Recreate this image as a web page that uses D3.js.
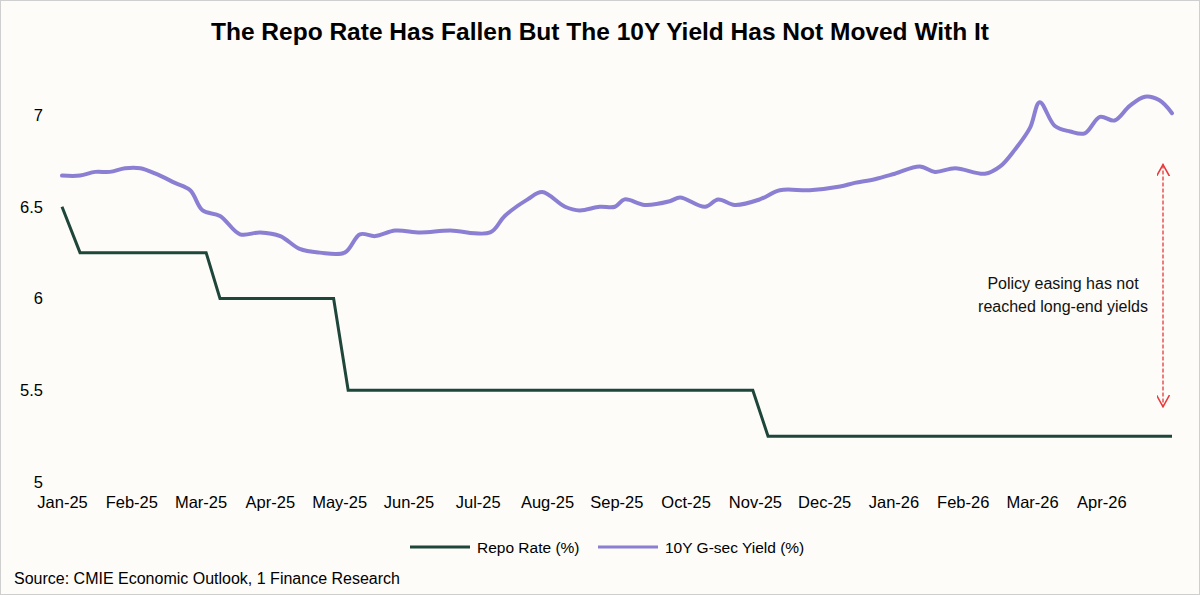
<!DOCTYPE html>
<html><head><meta charset="utf-8">
<script src="https://cdn.jsdelivr.net/npm/d3@7"></script>
<style>body{margin:0;background:#fff}svg{display:block;font-family:"Liberation Sans",Arial,sans-serif}</style>
</head><body><svg id="chart"></svg>
<script>
// months since Jan-25 (fractional)
var monthLabels = ['Jan-25','Feb-25','Mar-25','Apr-25','May-25','Jun-25','Jul-25','Aug-25','Sep-25','Oct-25','Nov-25','Dec-25','Jan-26','Feb-26','Mar-26','Apr-26'];
var repoMonths = [0, 0.26, 2.08, 2.28, 3.92, 4.13, 9.97, 10.19, 16.02];
var repoRate = [6.5, 6.25, 6.25, 6.0, 6.0, 5.5, 5.5, 5.25, 5.25];
var yieldMonths = [0,.26,.48,.69,.91,1.13,1.35,1.63,1.85,2.03,2.28,2.57,2.86,3.15,3.43,3.72,4.08,4.30,4.52,4.81,5.17,5.60,6.18,6.39,6.72,6.93,7.26,7.47,7.76,7.98,8.12,8.41,8.77,8.92,9.28,9.47,9.71,10.07,10.36,10.79,11.23,11.44,11.73,12.02,12.38,12.60,12.89,13.32,13.54,13.75,13.97,14.11,14.33,14.55,14.76,14.98,15.19,15.41,15.63,15.84,16.02];
var yield10 = [6.67,6.67,6.69,6.69,6.71,6.71,6.68,6.63,6.59,6.48,6.45,6.35,6.36,6.34,6.27,6.25,6.25,6.35,6.34,6.37,6.36,6.37,6.36,6.45,6.54,6.58,6.50,6.48,6.50,6.50,6.54,6.51,6.53,6.55,6.50,6.54,6.51,6.54,6.59,6.59,6.61,6.63,6.65,6.68,6.72,6.69,6.71,6.68,6.72,6.81,6.93,7.07,6.94,6.91,6.90,6.99,6.97,7.05,7.10,7.08,7.01];
var yTicks = [5, 5.5, 6, 6.5, 7];

var W = 1200, H = 595;
var svg = d3.select('#chart').attr('width', W).attr('height', H);
svg.append('rect').attr('x', 0.5).attr('y', 0.5).attr('width', W - 1).attr('height', H - 1)
  .attr('fill', '#fdfcf8').attr('stroke', '#cfcfcf');

var x = d3.scaleLinear().domain([0, 16.02]).range([62, 1172]);
var y = d3.scaleLinear().domain([5, 7]).range([482, 115]);

svg.append('text').attr('x', 600).attr('y', 40).attr('text-anchor', 'middle')
  .attr('font-size', 24.5).attr('font-weight', 'bold').text('The Repo Rate Has Fallen But The 10Y Yield Has Not Moved With It');

var yAxis = svg.append('g').attr('transform', 'translate(47,0)')
  .call(d3.axisLeft(y).tickValues(yTicks).tickSize(0).tickPadding(4).tickFormat(d3.format('')));
yAxis.select('.domain').remove();
yAxis.selectAll('text').attr('font-size', 16.5).attr('fill', '#000').attr('font-family', 'Liberation Sans, Arial');

var xAxis = svg.append('g').attr('transform', 'translate(0,490)')
  .call(d3.axisBottom(x).tickValues(d3.range(monthLabels.length)).tickSize(0).tickPadding(6)
    .tickFormat(function(d) { return monthLabels[d]; }));
xAxis.select('.domain').remove();
xAxis.selectAll('text').attr('font-size', 16.5).attr('fill', '#000').attr('font-family', 'Liberation Sans, Arial');

var line = d3.line().x(function(d) { return x(d[0]); }).y(function(d) { return y(d[1]); });
svg.append('path').datum(d3.zip(repoMonths, repoRate)).attr('d', line)
  .attr('fill', 'none').attr('stroke', '#1f463a').attr('stroke-width', 3);
svg.append('path').datum(d3.zip(yieldMonths, yield10)).attr('d', line.curve(d3.curveCatmullRom))
  .attr('fill', 'none').attr('stroke', '#8a7fd3').attr('stroke-width', 4).attr('stroke-linecap', 'round');

// annotation arrow
var defs = svg.append('defs');
defs.append('marker').attr('id', 'ah').attr('viewBox', '0 0 10 10').attr('refX', 9).attr('refY', 5)
  .attr('markerWidth', 10).attr('markerHeight', 10).attr('orient', 'auto-start-reverse')
  .append('path').attr('d', 'M0,0L9,5L0,10').attr('fill', 'none').attr('stroke', '#e8383b').attr('stroke-width', 1.2);
svg.append('line').attr('x1', 1163).attr('x2', 1163).attr('y1', y(6.73)).attr('y2', y(5.41))
  .attr('stroke', '#e8383b').attr('stroke-width', 1.3).attr('stroke-dasharray', '4,2')
  .attr('marker-start', 'url(#ah)').attr('marker-end', 'url(#ah)');
var ann = svg.append('text').attr('text-anchor', 'middle').attr('font-size', 16).attr('fill', '#111');
ann.append('tspan').attr('x', 1063).attr('y', 289).text('Policy easing has not');
ann.append('tspan').attr('x', 1063).attr('y', 312).text('reached long-end  yields');

// legend
var legend = [['Repo Rate (%)', '#1f463a', 410], ['10Y G-sec Yield (%)', '#8a7fd3', 598]];
legend.forEach(function(l) {
  svg.append('line').attr('x1', l[2]).attr('x2', l[2] + 60).attr('y1', 547).attr('y2', 547)
    .attr('stroke', l[1]).attr('stroke-width', 3);
  svg.append('text').attr('x', l[2] + 67).attr('y', 553).attr('font-size', 15.5).text(l[0]);
});
svg.append('text').attr('x', 14).attr('y', 584).attr('font-size', 16).text('Source: CMIE Economic Outlook, 1 Finance Research');
</script></body></html>
